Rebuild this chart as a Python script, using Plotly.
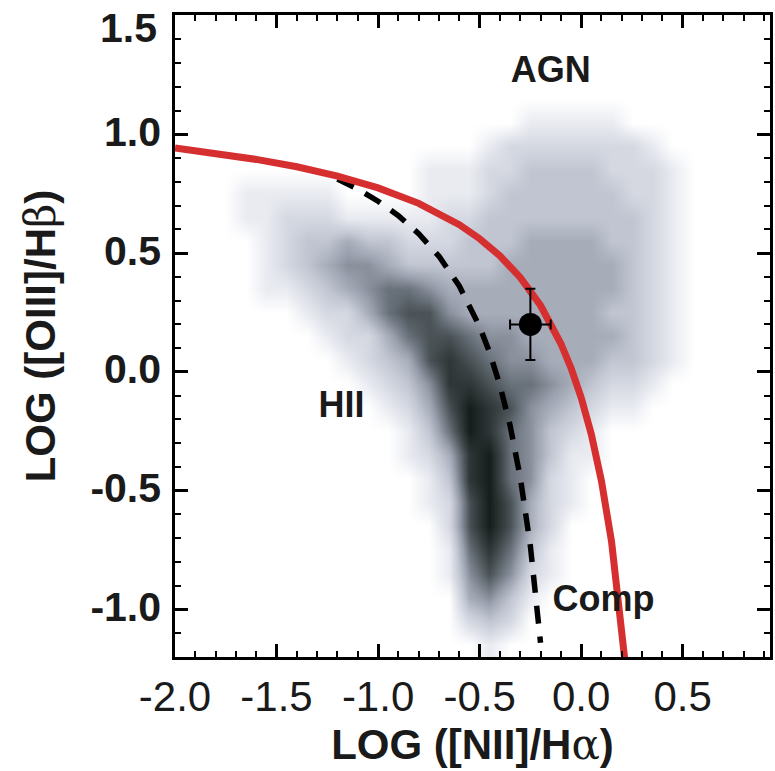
import plotly.graph_objects as go

# BPT diagram: SDSS galaxy density + demarcation lines + one object

# density grid (relative darkness 0-9), bin centres in dex
nii_centres = [-1.85, -1.75, -1.65, -1.55, -1.45, -1.35, -1.25, -1.15, -1.05, -0.95,
               -0.85, -0.75, -0.65, -0.55, -0.45, -0.35, -0.25, -0.15, -0.05, 0.05,
               0.15, 0.25, 0.35, 0.45, 0.55, 0.65]
oiii_centres = [1.15, 1.05, 0.95, 0.85, 0.75, 0.65, 0.55, 0.45, 0.35, 0.25, 0.15, 0.05,
                -0.05, -0.15, -0.25, -0.35, -0.45, -0.55, -0.65, -0.75, -0.85,
                -0.95, -1.05, -1.15]
density = [
    [0, 0, 0, 0, 0, 0, 0, 0, 0, 0, 0, 0, 0, 0, 0, 0, 0, 0, 0, 0, 0, 0, 0, 0, 0, 0],
    [0, 0, 0, 0, 0, 0, 0, 0, 0, 0, 0, 0, 0, 0, 0, 0, 1, 1, 1, 1, 1, 0, 0, 0, 0, 0],
    [0, 0, 0, 0, 0, 0, 0, 0, 0, 0, 0, 0, 0, 0, 1, 2, 2, 2, 2, 2, 2, 2, 1, 0, 0, 0],
    [0, 0, 0, 0, 0, 0, 0, 0, 0, 0, 0, 1, 1, 1, 2, 2, 3, 3, 3, 3, 2, 2, 2, 1, 0, 0],
    [0, 0, 1, 1, 1, 1, 1, 0, 0, 0, 0, 1, 1, 1, 2, 3, 3, 3, 3, 3, 3, 2, 2, 1, 0, 0],
    [0, 0, 1, 1, 2, 2, 2, 1, 1, 1, 1, 1, 2, 2, 3, 3, 3, 3, 3, 3, 3, 3, 2, 1, 0, 0],
    [0, 0, 0, 1, 2, 3, 3, 4, 3, 3, 2, 2, 2, 3, 3, 3, 4, 4, 4, 4, 3, 3, 2, 1, 0, 0],
    [0, 0, 0, 1, 2, 3, 4, 5, 5, 4, 3, 3, 3, 3, 3, 4, 4, 4, 4, 4, 4, 3, 2, 1, 0, 0],
    [0, 0, 0, 1, 1, 2, 3, 4, 5, 6, 6, 5, 4, 4, 4, 4, 4, 4, 4, 4, 4, 3, 2, 1, 0, 0],
    [0, 0, 0, 0, 0, 1, 2, 2, 4, 6, 7, 7, 5, 4, 4, 4, 4, 4, 4, 4, 3, 3, 2, 1, 0, 0],
    [0, 0, 0, 0, 0, 0, 1, 2, 2, 4, 6, 7, 7, 6, 5, 5, 4, 4, 4, 4, 4, 3, 2, 1, 0, 0],
    [0, 0, 0, 0, 0, 0, 0, 1, 2, 3, 4, 7, 8, 7, 6, 5, 5, 4, 4, 4, 3, 3, 2, 1, 0, 0],
    [0, 0, 0, 0, 0, 0, 0, 0, 1, 2, 3, 5, 8, 8, 7, 6, 6, 5, 4, 3, 2, 2, 1, 0, 0, 0],
    [0, 0, 0, 0, 0, 0, 0, 0, 0, 1, 2, 4, 7, 9, 8, 7, 5, 4, 3, 2, 1, 1, 0, 0, 0, 0],
    [0, 0, 0, 0, 0, 0, 0, 0, 0, 0, 1, 3, 6, 9, 8, 6, 5, 3, 2, 1, 0, 0, 0, 0, 0, 0],
    [0, 0, 0, 0, 0, 0, 0, 0, 0, 0, 1, 2, 4, 8, 9, 6, 5, 3, 1, 1, 0, 0, 0, 0, 0, 0],
    [0, 0, 0, 0, 0, 0, 0, 0, 0, 0, 0, 1, 3, 8, 9, 6, 5, 2, 1, 0, 0, 0, 0, 0, 0, 0],
    [0, 0, 0, 0, 0, 0, 0, 0, 0, 0, 0, 1, 2, 7, 9, 7, 4, 2, 1, 0, 0, 0, 0, 0, 0, 0],
    [0, 0, 0, 0, 0, 0, 0, 0, 0, 0, 0, 0, 2, 7, 9, 7, 4, 2, 0, 0, 0, 0, 0, 0, 0, 0],
    [0, 0, 0, 0, 0, 0, 0, 0, 0, 0, 0, 0, 1, 6, 8, 6, 3, 1, 0, 0, 0, 0, 0, 0, 0, 0],
    [0, 0, 0, 0, 0, 0, 0, 0, 0, 0, 0, 0, 1, 5, 7, 5, 2, 1, 0, 0, 0, 0, 0, 0, 0, 0],
    [0, 0, 0, 0, 0, 0, 0, 0, 0, 0, 0, 0, 0, 4, 5, 3, 1, 0, 0, 0, 0, 0, 0, 0, 0, 0],
    [0, 0, 0, 0, 0, 0, 0, 0, 0, 0, 0, 0, 0, 2, 3, 2, 0, 0, 0, 0, 0, 0, 0, 0, 0, 0],
    [0, 0, 0, 0, 0, 0, 0, 0, 0, 0, 0, 0, 0, 0, 1, 0, 0, 0, 0, 0, 0, 0, 0, 0, 0, 0],
]

# maximum starburst line (red, solid)
kewley_x = [-2.0, -1.8, -1.6, -1.4, -1.2, -1.0, -0.8, -0.6, -0.5, -0.4, -0.3,
            -0.2, -0.1, -0.05, 0.0, 0.05, 0.1, 0.15, 0.2, 0.22]
kewley_y = [0.943, 0.921, 0.895, 0.864, 0.825, 0.775, 0.710, 0.620, 0.561, 0.489,
            0.398, 0.280, 0.120, 0.017, -0.108, -0.262, -0.459, -0.716, -1.069, -1.25]

# empirical star-forming line (black, dashed)
kauff_x = [-1.2, -1.1, -1.0, -0.9, -0.8, -0.7, -0.6, -0.5, -0.45, -0.4, -0.35,
           -0.3, -0.25, -0.2]
kauff_y = [0.812, 0.770, 0.719, 0.658, 0.582, 0.487, 0.362, 0.191, 0.080, -0.056,
           -0.225, -0.443, -0.733, -1.14]

# the object
obj_x = [-0.25]
obj_y = [0.20]
obj_xerr = [0.10]
obj_yerr = [0.15]

region_names = ["AGN", "HII", "Comp"]
region_x = [-0.15, -1.18, 0.11]
region_y = [1.26, -0.15, -0.97]

x_ticks = [-2.0, -1.5, -1.0, -0.5, 0.0, 0.5]
x_ticktext = ["-2.0", "-1.5", "-1.0", "-0.5", "0.0", "0.5"]
y_ticks = [-1.0, -0.5, 0.0, 0.5, 1.0, 1.5]
# the top label sits lower than its tick in the original, so it is drawn separately
y_ticktext = ["-1.0", "-0.5", "0.0", "0.5", "1.0", ""]
y_top_label = "1.5"

FONT = "Liberation Sans"

greys = [
    [0.0, "#ffffff"],
    [0.11, "#e9ebf1"],
    [0.33, "#c1c6d2"],
    [0.5, "#9aa0ad"],
    [0.67, "#687079"],
    [0.83, "#3c4446"],
    [1.0, "#161d1c"],
]

fig = go.Figure()

fig.add_trace(go.Heatmap(
    x=nii_centres, y=oiii_centres[::-1], z=density[::-1],
    zmin=0, zmax=9, colorscale=greys, zsmooth="best",
    showscale=False, hoverinfo="skip",
))

fig.add_trace(go.Scatter(
    x=kauff_x, y=kauff_y, mode="lines",
    line=dict(color="black", width=5.5, dash="18px,13px"),
    showlegend=False,
))

fig.add_trace(go.Scatter(
    x=kewley_x, y=kewley_y, mode="lines",
    line=dict(color="#d62f2f", width=7),
    showlegend=False,
))

fig.add_trace(go.Scatter(
    x=obj_x, y=obj_y, mode="markers",
    marker=dict(color="black", size=23),
    error_x=dict(type="data", array=obj_xerr, color="black", thickness=2, width=5),
    error_y=dict(type="data", array=obj_yerr, color="black", thickness=2, width=5),
    showlegend=False,
))

fig.add_trace(go.Scatter(
    x=region_x, y=region_y, mode="text", text=region_names,
    textfont=dict(family=FONT, size=36, color="#1a1a1a", weight="bold"),
    showlegend=False,
))

axis_style = dict(
    showline=True, linewidth=2.5, linecolor="black", mirror="allticks",
    ticks="inside", ticklen=13, tickwidth=2.5, tickcolor="black",
    showgrid=False, zeroline=False,
    minor=dict(ticks="inside", ticklen=6, tickwidth=2, tickcolor="black", dtick=0.1, tick0=0),
)

fig.update_xaxes(
    range=[-2.0, 0.93], tickvals=x_ticks, ticktext=x_ticktext,
    tickfont=dict(family=FONT, size=42, color="#1a1a1a"),
    ticklabelstandoff=1,
    title=dict(text="LOG ([NII]/H<span style='font-family:DejaVu Serif;font-weight:normal'>α</span>)",
               font=dict(family=FONT, size=42, color="#1a1a1a", weight="bold"),
               standoff=10),
    **axis_style,
)
fig.update_yaxes(
    range=[-1.2, 1.503], tickvals=y_ticks, ticktext=y_ticktext,
    tickfont=dict(family=FONT, size=41, color="#1a1a1a", weight="bold"),
    ticklabelstandoff=3, ticklabelshift=-3,
    title=dict(text="LOG ([OIII]/H<span style='font-family:DejaVu Serif;font-weight:normal'>β</span>)",
               font=dict(family=FONT, size=42, color="#1a1a1a", weight="bold"),
               standoff=22),
    **axis_style,
)

fig.add_annotation(
    text=y_top_label, xref="paper", x=0, xanchor="right", xshift=-16,
    yref="y", y=y_ticks[-1], yanchor="middle", yshift=-12,
    showarrow=False, font=dict(family=FONT, size=41, color="#1a1a1a", weight="bold"),
)

fig.update_layout(
    template="none",
    width=775, height=771,
    margin=dict(l=175, r=5, t=15, b=114),
    plot_bgcolor="white", paper_bgcolor="white",
    showlegend=False,
)

# drop the page's default body margin so the figure fills the window
fig.write_html("out.html", config={"displayModeBar": False},
               post_script="document.body.style.margin='0';")
